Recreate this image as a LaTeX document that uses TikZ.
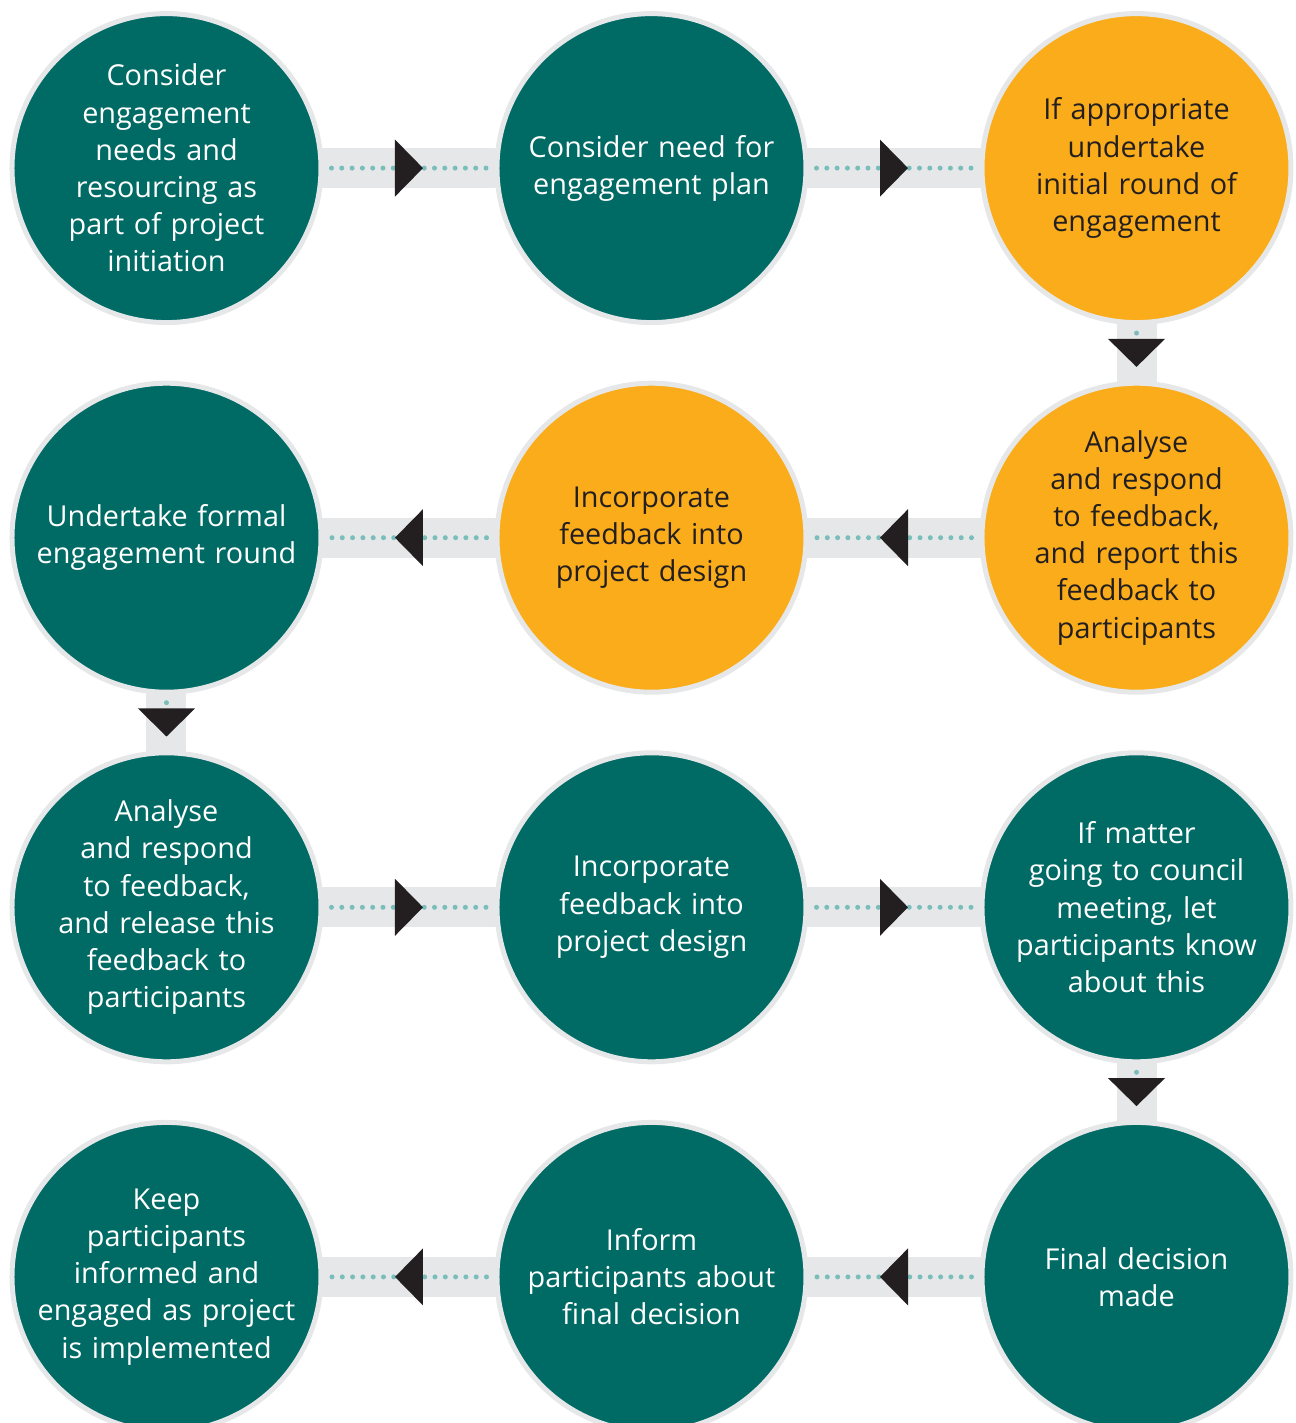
\documentclass[tikz,border=0pt]{standalone}
\usepackage{fontspec}
\setmainfont{Open Sans}
\usepackage{tikz}
\usetikzlibrary{backgrounds, matrix, decorations.markings}

\definecolor{stageteal}{RGB}{0,106,101}
\definecolor{stageorange}{RGB}{250,172,26}
\definecolor{ringgrey}{RGB}{230,231,232}
\definecolor{dotteal}{RGB}{122,190,188}
\definecolor{tipdark}{RGB}{35,31,32}

\tikzset{
  stage/.style={circle, draw=ringgrey, line width=2.5pt, fill=stageteal,
    minimum size=154.5pt, inner sep=-20pt, text width=150pt, align=center,
    text=white, font=\fontsize{14.4}{18.6}\selectfont, anchor=center},
  warm/.style={fill=stageorange, text=tipdark},
  band/.style={draw=ringgrey, line width=20pt},
  dots/.style={draw=dotteal, line width=2.5pt, line cap=round,
    dash pattern=on 0pt off 5.15pt, shorten <=4pt, shorten >=4pt,
    decoration={markings, mark=at position 0.5 with
      {\fill[tipdark] (-7pt,14.25pt) -- (7pt,0pt) -- (-7pt,-14.25pt) -- cycle;}},
    postaction=decorate}
}

\begin{document}
\begin{tikzpicture}
\useasboundingbox (-325.75pt,-350.25pt) rectangle (321.75pt,361.25pt);
\matrix [matrix of nodes, nodes={stage},
         column sep={242.5pt,between origins},
         row sep={184.8pt,between origins}] at (0,0)
%
{
|(s1)| Consider\par engagement\par needs and\par resourcing as\par part of project\par initiation
  & |(s2)| Consider need for\par engagement plan
  & |[warm](s3)| If appropriate\par undertake\par initial round of\par engagement \\
|(s6)| Undertake formal\par engagement round
  & |[warm](s5)| Incorporate\par feedback into\par project design
  & |[warm](s4)| Analyse\par and respond\par to feedback,\par and report this\par feedback to\par participants \\
|(s7)| Analyse\par and respond\par to feedback,\par and release this\par feedback to\par participants
  & |(s8)| Incorporate\par feedback into\par project design
  & |(s9)| If matter\par going to council\par meeting, let\par participants know\par about this \\
|(s12)| Keep\par participants\par informed and\par engaged as project\par is implemented
  & |(s11)| Inform\par participants about\par final decision
  & |(s10)| Final decision\par made \\
};

\begin{scope}[on background layer]
\foreach \a/\b in {s1/s2,s2/s3,s3/s4,s4/s5,s5/s6,s6/s7,s7/s8,s8/s9,s9/s10,s10/s11,s11/s12}
  \draw[band] (\a.center) -- (\b.center);
\end{scope}
%
\foreach \a/\b in {s1/s2,s2/s3,s3/s4,s4/s5,s5/s6,s6/s7,s7/s8,s8/s9,s9/s10,s10/s11,s11/s12}
  \draw[dots] (\a) -- (\b);
\end{tikzpicture}
\end{document}
